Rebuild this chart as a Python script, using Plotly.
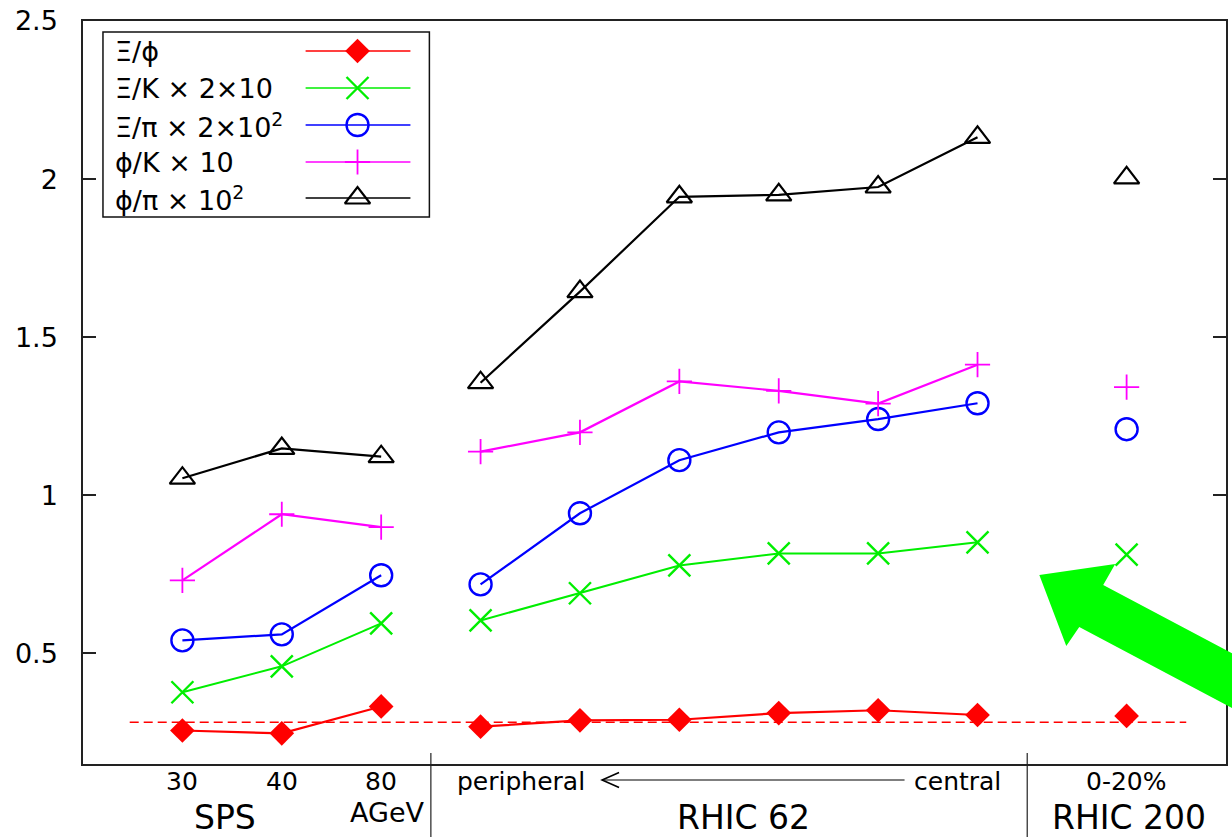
import plotly.graph_objects as go

# ---------------- data ----------------
# x positions of the measurement points on the horizontal scale
sps_pos = [1, 2, 3]                 # SPS 30, 40, 80 AGeV
r62_pos = [4, 5, 6, 7, 8, 9]        # RHIC 62, peripheral -> central
r200_pos = [10.5]                   # RHIC 200, 0-20%
sps_labels = ["30", "40", "80"]

# Xi/phi
xi_phi_sps = [0.256, 0.247, 0.332]
xi_phi_r62 = [0.268, 0.288, 0.290, 0.311, 0.320, 0.305]
xi_phi_r200 = [0.302]
# Xi/K x 2x10
xi_k_sps = [0.377, 0.459, 0.595]
xi_k_r62 = [0.604, 0.690, 0.778, 0.816, 0.816, 0.851]
xi_k_r200 = [0.812]
# Xi/pi x 2x10^2
xi_pi_sps = [0.541, 0.560, 0.747]
xi_pi_r62 = [0.718, 0.943, 1.111, 1.199, 1.241, 1.291]
xi_pi_r200 = [1.209]
# phi/K x 10
phi_k_sps = [0.731, 0.940, 0.899]
phi_k_r62 = [1.138, 1.199, 1.360, 1.330, 1.290, 1.413]
phi_k_r200 = [1.342]
# phi/pi x 10^2
phi_pi_sps = [1.054, 1.148, 1.122]
phi_pi_r62 = [1.356, 1.644, 1.944, 1.950, 1.975, 2.132]
phi_pi_r200 = [2.004]

# common Xi/phi reference level (dashed line)
xi_phi_level = 0.282
xi_phi_level_span = [0.47, 11.1]

series_names = [
    "Ξ/ϕ",
    "Ξ/K × 2×10",
    "Ξ/π × 2×10<sup>2</sup>",
    "ϕ/K × 10",
    "ϕ/π × 10<sup>2</sup>",
]
series_values = [
    (xi_phi_sps, xi_phi_r62, xi_phi_r200),
    (xi_k_sps, xi_k_r62, xi_k_r200),
    (xi_pi_sps, xi_pi_r62, xi_pi_r200),
    (phi_k_sps, phi_k_r62, phi_k_r200),
    (phi_pi_sps, phi_pi_r62, phi_pi_r200),
]

# ---------------- styles ----------------
styles = [
    dict(color="#ff0000", symbol="diamond", size=19, mlw=0, lw=2.2),
    dict(color="#00ee00", symbol="x-thin-open", size=22, mlw=2.4, lw=2),
    dict(color="#0000ff", symbol="circle-open", size=22, mlw=2.4, lw=2.2),
    dict(color="#ff00ff", symbol="cross-thin-open", size=18, mlw=1.8, lw=2.2),
    dict(color="#000000", symbol="triangle-up-open", size=22, mlw=2.2, lw=2.2),
]

FONT = "DejaVu Sans"
W, H = 1232, 837
L, R, T, B = 83, 4, 21, 73
PW, PH = W - L - R, H - T - B


def px(xp):
    return (xp - L) / PW


def py(yp):
    return (H - B - yp) / PH


fig = go.Figure()

# dashed reference level
fig.add_trace(go.Scatter(
    x=xi_phi_level_span, y=[xi_phi_level] * 2, mode="lines",
    line=dict(color="#ff0000", width=1.5, dash="9px,5px"),
    hoverinfo="skip"))

# measured ratios: SPS, RHIC 62 and RHIC 200 drawn as separate segments
for name, (v_sps, v_62, v_200), st in zip(series_names, series_values, styles):
    xs = sps_pos + [None] + r62_pos + [None] + r200_pos
    ys = v_sps + [None] + v_62 + [None] + v_200
    fig.add_trace(go.Scatter(
        x=xs, y=ys, mode="lines+markers", name=name, connectgaps=False,
        line=dict(color=st["color"], width=st["lw"]),
        marker=dict(symbol=st["symbol"], size=st["size"], color=st["color"],
                    line=dict(color=st["color"], width=st["mlw"]))))

# ---------------- legend (text left, sample right) ----------------
leg_rows = [51, 88, 125, 162, 198]
leg_box = (103, 32, 430, 217)
for name, st, yr in zip(series_names, styles, leg_rows):
    fig.add_trace(go.Scatter(
        x=[306, 411], y=[yr, yr], xaxis="x2", yaxis="y2", mode="lines",
        line=dict(color=st["color"], width=1.5), hoverinfo="skip"))
    fig.add_trace(go.Scatter(
        x=[358], y=[yr], xaxis="x2", yaxis="y2", mode="markers",
        marker=dict(symbol=st["symbol"], size=st["size"], color=st["color"],
                    line=dict(color=st["color"], width=st["mlw"])),
        hoverinfo="skip"))
    fig.add_annotation(x=113, y=yr, xref="x2", yref="y2", text=name,
                       showarrow=False, xanchor="left", yanchor="middle",
                       font=dict(family=FONT, size=27, color="black"))

shapes = [
    dict(type="rect", xref="x2", yref="y2", x0=leg_box[0], y0=leg_box[1],
         x1=leg_box[2], y1=leg_box[3], line=dict(color="#111", width=1.5)),
]

# group dividers below the axis
for xd in [3.5, 9.5]:
    shapes.append(dict(type="line", xref="x", yref="paper", x0=xd, x1=xd,
                       y0=py(753), y1=py(840), line=dict(color="#222", width=1.2)))

# centrality arrow "peripheral <----- central"
shapes.append(dict(type="line", xref="paper", yref="paper",
                   x0=px(603), x1=px(906), y0=py(780), y1=py(780),
                   line=dict(color="black", width=1.2)))
shapes.append(dict(type="path", xref="paper", yref="paper",
                   path=f"M {px(620)},{py(772.5)} L {px(603)},{py(780)} L {px(620)},{py(787.5)}",
                   line=dict(color="black", width=1.6)))

# big green arrow
arrow_px = [(1041, 575), (1117, 564), (1105, 585), (1300, 688),
            (1300, 743), (1081, 627), (1068, 646)]
path = "M " + " L ".join(f"{px(a)},{py(b)}" for a, b in arrow_px) + " Z"
shapes.append(dict(type="path", xref="paper", yref="paper", path=path,
                   fillcolor="#00ff00", line=dict(color="#00ff00", width=0),
                   layer="above"))

# ---------------- labels under the axis ----------------
small = dict(family=FONT, size=25, color="black")
big = dict(family=FONT, size=33, color="black")
ann = []
for xp, lab in zip(sps_pos, sps_labels):
    ann.append(dict(x=xp, y=py(781), xref="x", yref="paper", text=lab, font=small))
ann.append(dict(x=r200_pos[0], y=py(781), xref="x", yref="paper", text="0-20%", font=small))
ann.append(dict(x=px(388), y=py(812), xref="paper", yref="paper", text="AGeV",
                font=dict(family=FONT, size=27, color="black")))
ann.append(dict(x=px(522), y=py(781), xref="paper", yref="paper", text="peripheral", font=small))
ann.append(dict(x=px(959), y=py(781), xref="paper", yref="paper", text="central", font=small))
ann.append(dict(x=px(225), y=py(817), xref="paper", yref="paper", text="SPS", font=big))
ann.append(dict(x=px(745), y=py(817), xref="paper", yref="paper", text="RHIC 62", font=big))
ann.append(dict(x=px(1131), y=py(817), xref="paper", yref="paper", text="RHIC 200", font=big))
for a in ann:
    a.update(showarrow=False, xanchor="center", yanchor="middle")
    fig.add_annotation(**a)

fig.update_layout(
    width=W, height=H,
    margin=dict(l=L, r=R, t=T, b=B, pad=0),
    paper_bgcolor="white", plot_bgcolor="white",
    showlegend=False,
    shapes=shapes,
    xaxis=dict(range=[0, 11.5], showline=True, linecolor="#222", linewidth=1.5,
               mirror=True, ticks="", showticklabels=False, showgrid=False,
               zeroline=False),
    yaxis=dict(range=[0.15, 2.5], tickvals=[0.5, 1, 1.5, 2, 2.5],
               ticktext=["0.5", "1", "1.5", "2", "2.5"],
               showline=True, linecolor="#222", linewidth=1.5, mirror="ticks",
               ticks="inside", ticklen=13, tickwidth=1.5, tickcolor="#222",
               ticklabelstandoff=18, showgrid=False, zeroline=False,
               tickfont=dict(family=FONT, size=27, color="black")),
    xaxis2=dict(overlaying="x", range=[L, L + PW], visible=False),
    yaxis2=dict(overlaying="y", range=[T + PH, T], visible=False),
)

fig.write_html("out.html")
